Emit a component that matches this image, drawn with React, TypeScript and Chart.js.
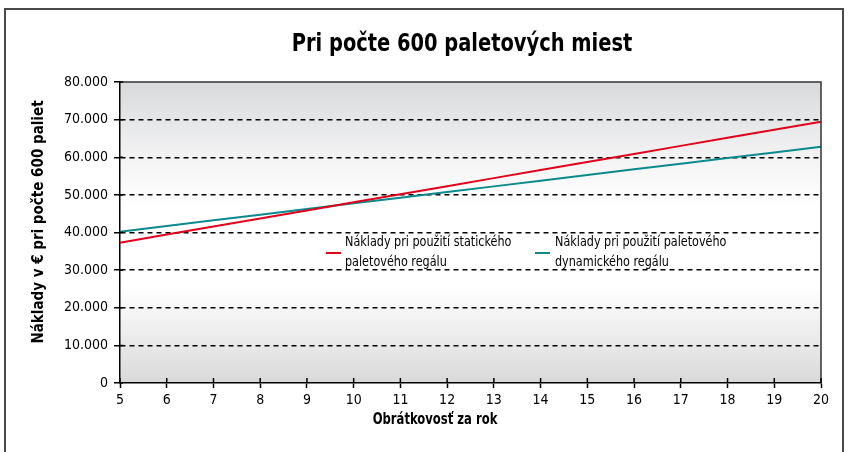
import React, { useEffect, useRef } from 'react';
import { Chart, registerables } from 'chart.js';

Chart.register(...registerables);

// ---- data ----
const turnover = ['5', '6', '7', '8', '9', '10', '11', '12', '13', '14', '15', '16', '17', '18', '19', '20'];
const staticRackCosts = [37300, 39450, 41600, 43730, 45870, 48020, 50160, 52300, 54450, 56590, 58740, 60880, 63020, 65170, 67310, 69450];
const dynamicRackCosts = [40220, 41730, 43230, 44740, 46240, 47750, 49250, 50760, 52260, 53770, 55270, 56780, 58280, 59790, 61290, 62800];
const staticRackLabel = ['Náklady pri použití statického', 'paletového regálu'];
const dynamicRackLabel = ['Náklady pri použití paletového', 'dynamického regálu'];
const yTickValues = [0, 10000, 20000, 30000, 40000, 50000, 60000, 70000, 80000];
const chartTitle = 'Pri počte 600 paletových miest';
const xAxisTitle = 'Obrátkovosť za rok';
const yAxisTitle = 'Náklady v € pri počte 600 paliet';

const FONT = "'Liberation Sans Narrow', 'DejaVu Sans Condensed', 'Arial Narrow', sans-serif";
const RED = '#e0001b';
const TEAL = '#0a8a8c';

const formatThousands = (v: number) => {
  if (v === 0) return '0';
  const s = String(Math.round(v));
  return s.replace(/\B(?=(\d{3})+(?!\d))/g, '.');
};

// draw text squeezed horizontally to imitate a condensed face
const drawSqueezed = (ctx: CanvasRenderingContext2D, text: string, x: number, y: number, sx: number) => {
  ctx.save();
  ctx.translate(x, y);
  ctx.scale(sx, 1);
  ctx.fillText(text, 0, 0);
  ctx.restore();
};

const decorPlugin = {
  id: 'decor',
  beforeDraw(chart: any) {
    const { ctx, chartArea: a } = chart;
    ctx.save();
    ctx.fillStyle = '#ffffff';
    ctx.fillRect(0, 0, chart.width, chart.height);
    // outer frame
    ctx.strokeStyle = '#4a4a4a';
    ctx.lineWidth = 2;
    ctx.strokeRect(5, 9, 838, 470);
    // plot background gradient
    const g = ctx.createLinearGradient(0, a.top, 0, a.bottom);
    g.addColorStop(0, '#d8d9db');
    g.addColorStop(0.27, '#f5f5f6');
    g.addColorStop(0.42, '#ffffff');
    g.addColorStop(0.68, '#ffffff');
    g.addColorStop(1, '#d9d9d9');
    ctx.fillStyle = g;
    ctx.fillRect(a.left, a.top, a.right - a.left, a.bottom - a.top);
    ctx.restore();
  },
  afterDraw(chart: any) {
    const { ctx, chartArea: a } = chart;
    const xs = chart.scales.x;
    const ys = chart.scales.y;
    ctx.save();
    // plot frame top + right
    ctx.strokeStyle = '#333333';
    ctx.lineWidth = 1.5;
    ctx.beginPath();
    ctx.moveTo(a.left, a.top);
    ctx.lineTo(a.right, a.top);
    ctx.lineTo(a.right, a.bottom);
    ctx.stroke();
    // inward tick parts
    ctx.strokeStyle = '#000';
    ctx.beginPath();
    xs.ticks.forEach((_t: any, i: number) => {
      const x = xs.getPixelForTick(i);
      ctx.moveTo(x, a.bottom - 5);
      ctx.lineTo(x, a.bottom);
    });
    ys.ticks.forEach((t: any) => {
      const y = ys.getPixelForValue(t.value);
      ctx.moveTo(a.left, y);
      ctx.lineTo(a.left + 3, y);
    });
    ctx.stroke();

    // titles
    ctx.fillStyle = '#000';
    ctx.textBaseline = 'middle';
    ctx.textAlign = 'center';
    ctx.font = `bold 24px ${FONT}`;
    drawSqueezed(ctx, chartTitle, 462, 45, 0.9);
    ctx.font = `bold 15px ${FONT}`;
    drawSqueezed(ctx, xAxisTitle, 435, 420, 0.86);
    ctx.save();
    ctx.translate(39, 222);
    ctx.rotate(-Math.PI / 2);
    ctx.font = `bold 15px ${FONT}`;
    ctx.fillText(yAxisTitle, 0, 0);
    ctx.restore();

    // legend
    const items = [
      { ds: chart.data.datasets[0], sx: 326, tx: 345 },
      { ds: chart.data.datasets[1], sx: 535, tx: 555 },
    ];
    ctx.textAlign = 'left';
    ctx.font = `14.5px ${FONT}`;
    items.forEach((it) => {
      ctx.strokeStyle = it.ds.borderColor;
      ctx.lineWidth = 2;
      ctx.beginPath();
      ctx.moveTo(it.sx, 253);
      ctx.lineTo(it.sx + 15, 253);
      ctx.stroke();
      const lines: string[] = it.ds.legendLines;
      lines.forEach((ln, k) => {
        drawSqueezed(ctx, ln, it.tx, 242 + k * 20, 0.86);
      });
    });
    ctx.restore();
  },
};

export default function App() {
  const ref = useRef<HTMLCanvasElement | null>(null);
  useEffect(() => {
    if (!ref.current) return;
    const chart = new Chart(ref.current, {
      type: 'line',
      data: {
        labels: turnover,
        datasets: [
          {
            label: staticRackLabel.join(' '),
            legendLines: staticRackLabel,
            data: staticRackCosts,
            borderColor: RED,
            borderWidth: 2,
            pointRadius: 0,
            fill: false,
            tension: 0,
            order: 1,
          } as any,
          {
            label: dynamicRackLabel.join(' '),
            legendLines: dynamicRackLabel,
            data: dynamicRackCosts,
            borderColor: TEAL,
            borderWidth: 2,
            pointRadius: 0,
            fill: false,
            tension: 0,
            order: 2,
          } as any,
        ],
      },
      options: {
        animation: false,
        responsive: false,
        devicePixelRatio: 1,
        layout: { padding: { left: 0, right: 27, top: 82, bottom: 0 } },
        plugins: {
          legend: { display: false },
          title: { display: false },
          tooltip: { enabled: false },
        },
        scales: {
          x: {
            type: 'category',
            offset: false,
            grid: { drawOnChartArea: false, drawTicks: true, tickLength: 5, tickColor: '#000', tickWidth: 1.5 },
            border: { display: true, color: '#000', width: 1.5 },
            ticks: { color: '#000', font: { family: FONT, size: 14 }, padding: 4, maxRotation: 0, autoSkip: false },
            afterFit(s: any) { s.height = 69; },
          },
          y: {
            min: 0,
            max: 80000,
            afterBuildTicks(s: any) { s.ticks = yTickValues.map((v) => ({ value: v })); },
            grid: {
              color: (c: any) => (c.tick && (c.tick.value === 0 || c.tick.value === 80000) ? 'rgba(0,0,0,0)' : '#000'),
              lineWidth: 1.5,
              tickLength: 6,
              tickColor: '#000',
              tickWidth: 1.5,
              tickBorderDash: [],
            },
            border: { display: true, color: '#000', width: 1.5, dash: [5, 4] },
            ticks: { color: '#000', font: { family: FONT, size: 14 }, padding: 6, callback: (v: any) => formatThousands(Number(v)) },
            afterFit(s: any) { s.width = 120; },
          },
        },
      } as any,
      plugins: [decorPlugin],
    });
    return () => chart.destroy();
  }, []);
  return (
    <div style={{ position: 'fixed', left: 0, top: 0, width: 848, height: 452 }}>
      <canvas ref={ref} width={848} height={452} style={{ display: 'block', width: 848, height: 452 }} />
    </div>
  );
}
